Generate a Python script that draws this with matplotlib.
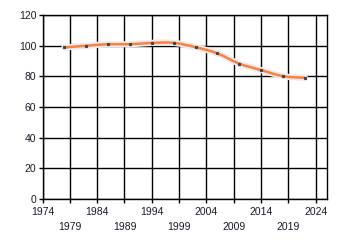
import matplotlib
matplotlib.use("Agg")
import matplotlib.pyplot as plt
import numpy as np
from matplotlib.path import Path
from matplotlib.patches import PathPatch

years = [1978, 1982, 1986, 1990, 1994, 1998, 2002, 2006, 2010, 2014, 2018, 2022]
values = [98.9, 100.0, 101.0, 101.0, 101.9, 101.9, 99.1, 95.0, 88.3, 84.1, 80.1, 79.1]
row1_ticks = [1974, 1984, 1994, 2004, 2014, 2024]
row2_ticks = [1979, 1989, 1999, 2009, 2019]
y_ticks = [0, 20, 40, 60, 80, 100, 120]

plt.rcParams['font.family'] = ['Liberation Sans', 'DejaVu Sans']

fig = plt.figure(figsize=(3.4, 2.45), dpi=100)
ax = fig.add_axes([0.125, 0.189, 0.836, 0.749])

ax.set_xlim(1974, 2026)
ax.set_ylim(0, 120)

# smooth curve via Catmull-Rom -> cubic Bezier
x = np.array(years, dtype=float)
y = np.array(values, dtype=float)
verts = [(x[0], y[0])]
codes = [Path.MOVETO]
n = len(x)
for i in range(n - 1):
    p0 = (x[max(i - 1, 0)], y[max(i - 1, 0)])
    p1 = (x[i], y[i])
    p2 = (x[i + 1], y[i + 1])
    p3 = (x[min(i + 2, n - 1)], y[min(i + 2, n - 1)])
    t = 1 / 6
    c1 = (p1[0] + (p2[0] - p0[0]) * t, p1[1] + (p2[1] - p0[1]) * t)
    c2 = (p2[0] - (p3[0] - p1[0]) * t, p2[1] - (p3[1] - p1[1]) * t)
    verts += [c1, c2, p2]
    codes += [Path.CURVE4] * 3
path = Path(verts, codes)

ax.add_patch(PathPatch(path, fill=False, edgecolor='#ebebeb', lw=4.5, capstyle='round', zorder=3))
ax.add_patch(PathPatch(path, fill=False, edgecolor='#ff7f40', lw=1.8, zorder=4))
ax.plot(years, values, linestyle='none', marker='s', ms=1.3, color='#444444', zorder=5)

ax.set_yticks(y_ticks)
ax.set_xticks(row1_ticks)
ax.set_xticks(row2_ticks, minor=True)
ax.set_xticklabels([str(t) for t in row1_ticks])
ax.set_xticklabels([str(t) for t in row2_ticks], minor=True)

ax.grid(True, which='both', color='black', lw=1.0)
ax.set_axisbelow(True)
for s in ax.spines.values():
    s.set_color('black')
    s.set_linewidth(1.0)

ax.tick_params(axis='both', which='both', direction='out', length=3, width=1.0,
               labelsize=7.5, colors='black', labelcolor='#1a1a2a')
ax.tick_params(axis='x', which='major', pad=3)
ax.tick_params(axis='x', which='minor', pad=13.5)
ax.tick_params(axis='y', pad=1.5)

fig.savefig('out.png', dpi=100, facecolor='white')
